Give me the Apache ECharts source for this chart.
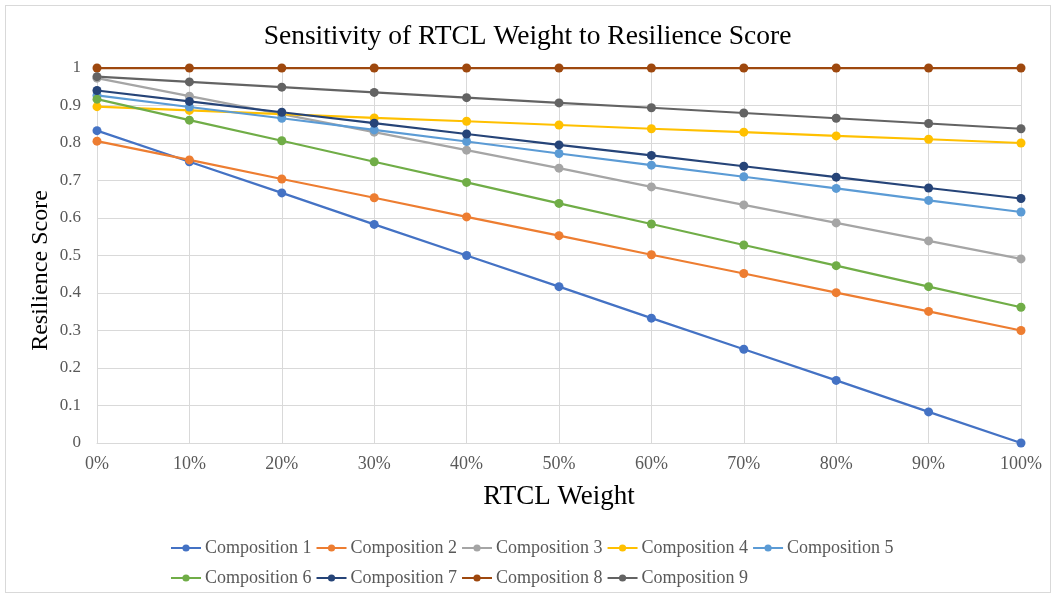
<!DOCTYPE html>
<html>
<head>
<meta charset="utf-8">
<script src="https://cdn.jsdelivr.net/npm/echarts@6/dist/echarts.min.js"></script>
<style>
  html, body { margin: 0; padding: 0; background: #fff; }
  #frame { position: absolute; left: 5px; top: 5px; width: 1046px; height: 588px; border: 1px solid #d9d9d9; box-sizing: border-box; }
  #chart { position: absolute; left: 0; top: 0; width: 1055px; height: 595px; }
</style>
</head>
<body>
<div id="frame"></div>
<div id="chart"></div>
<script>
// RTCL weight steps (x axis)
const weights = ["0%", "10%", "20%", "30%", "40%", "50%", "60%", "70%", "80%", "90%", "100%"];

const composition1 = [0.833, 0.750, 0.667, 0.583, 0.500, 0.417, 0.333, 0.250, 0.167, 0.083, 0.000];
const composition2 = [0.805, 0.755, 0.704, 0.654, 0.603, 0.553, 0.502, 0.452, 0.401, 0.351, 0.300];
const composition3 = [0.973, 0.925, 0.877, 0.829, 0.781, 0.733, 0.683, 0.635, 0.587, 0.539, 0.491];
const composition4 = [0.897, 0.887, 0.877, 0.867, 0.858, 0.848, 0.838, 0.829, 0.819, 0.810, 0.800];
const composition5 = [0.927, 0.896, 0.866, 0.835, 0.804, 0.772, 0.741, 0.710, 0.679, 0.647, 0.616];
const composition6 = [0.917, 0.861, 0.806, 0.750, 0.695, 0.639, 0.584, 0.528, 0.473, 0.417, 0.362];
const composition7 = [0.940, 0.911, 0.882, 0.853, 0.824, 0.795, 0.767, 0.738, 0.709, 0.680, 0.652];
const composition8 = [1, 1, 1, 1, 1, 1, 1, 1, 1, 1, 1];
const composition9 = [0.977, 0.963, 0.949, 0.935, 0.921, 0.907, 0.894, 0.880, 0.866, 0.852, 0.838];

const seriesNames = ["Composition 1", "Composition 2", "Composition 3", "Composition 4", "Composition 5",
  "Composition 6", "Composition 7", "Composition 8", "Composition 9"];
const seriesData = [composition1, composition2, composition3, composition4, composition5,
  composition6, composition7, composition8, composition9];
const colors = ["#4472C4", "#ED7D31", "#A5A5A5", "#FFC000", "#5B9BD5", "#70AD47", "#264478", "#9E480E", "#636363"];

const serif = "'Liberation Serif', 'Times New Roman', serif";
const chart = echarts.init(document.getElementById("chart"), null, { renderer: "canvas" });

chart.setOption({
  animation: false,
  color: colors,
  title: {
    text: "Sensitivity of RTCL Weight to Resilience Score",
    left: "center",
    top: 18,
    textStyle: { fontFamily: serif, fontSize: 27.5, fontWeight: "normal", color: "#000" }
  },
  grid: { left: 97, right: 34, top: 68, bottom: 152 },
  legend: {
    left: 165,
    top: 530,
    width: 780,
    itemWidth: 30,
    itemHeight: 9,
    itemGap: 4,
    textStyle: { fontFamily: serif, fontSize: 18, lineHeight: 26, color: "#595959", padding: [0, 0, 0, -1] },
    data: seriesNames
  },
  xAxis: {
    type: "category",
    data: weights,
    boundaryGap: false,
    name: "RTCL Weight",
    nameLocation: "middle",
    nameGap: 40,
    nameTextStyle: { fontFamily: serif, fontSize: 27, color: "#000" },
    axisLine: { lineStyle: { color: "#d9d9d9", width: 1 } },
    axisTick: { show: false },
    splitLine: { show: true, lineStyle: { color: "#d9d9d9", width: 1 } },
    axisLabel: { fontFamily: serif, fontSize: 18, color: "#595959", margin: 12 }
  },
  yAxis: {
    type: "value",
    min: 0,
    max: 1,
    interval: 0.1,
    name: "Resilience Score",
    nameLocation: "middle",
    nameGap: 44,
    nameMoveOverlap: false,
    nameTextStyle: { fontFamily: serif, fontSize: 24, color: "#000", padding: [0, 30, 0, 0] },
    axisLine: { show: false },
    axisTick: { show: false },
    splitLine: { lineStyle: { color: "#d9d9d9", width: 1 } },
    axisLabel: {
      fontFamily: serif, fontSize: 17, color: "#595959", margin: 16,
      formatter: v => String(Math.round(v * 10) / 10)
    }
  },
  series: seriesNames.map((name, i) => ({
    name,
    type: "line",
    data: seriesData[i],
    symbol: "circle",
    symbolSize: 9,
    lineStyle: { width: 2.25 },
    emphasis: { disabled: true }
  }))
});
</script>
</body>
</html>
